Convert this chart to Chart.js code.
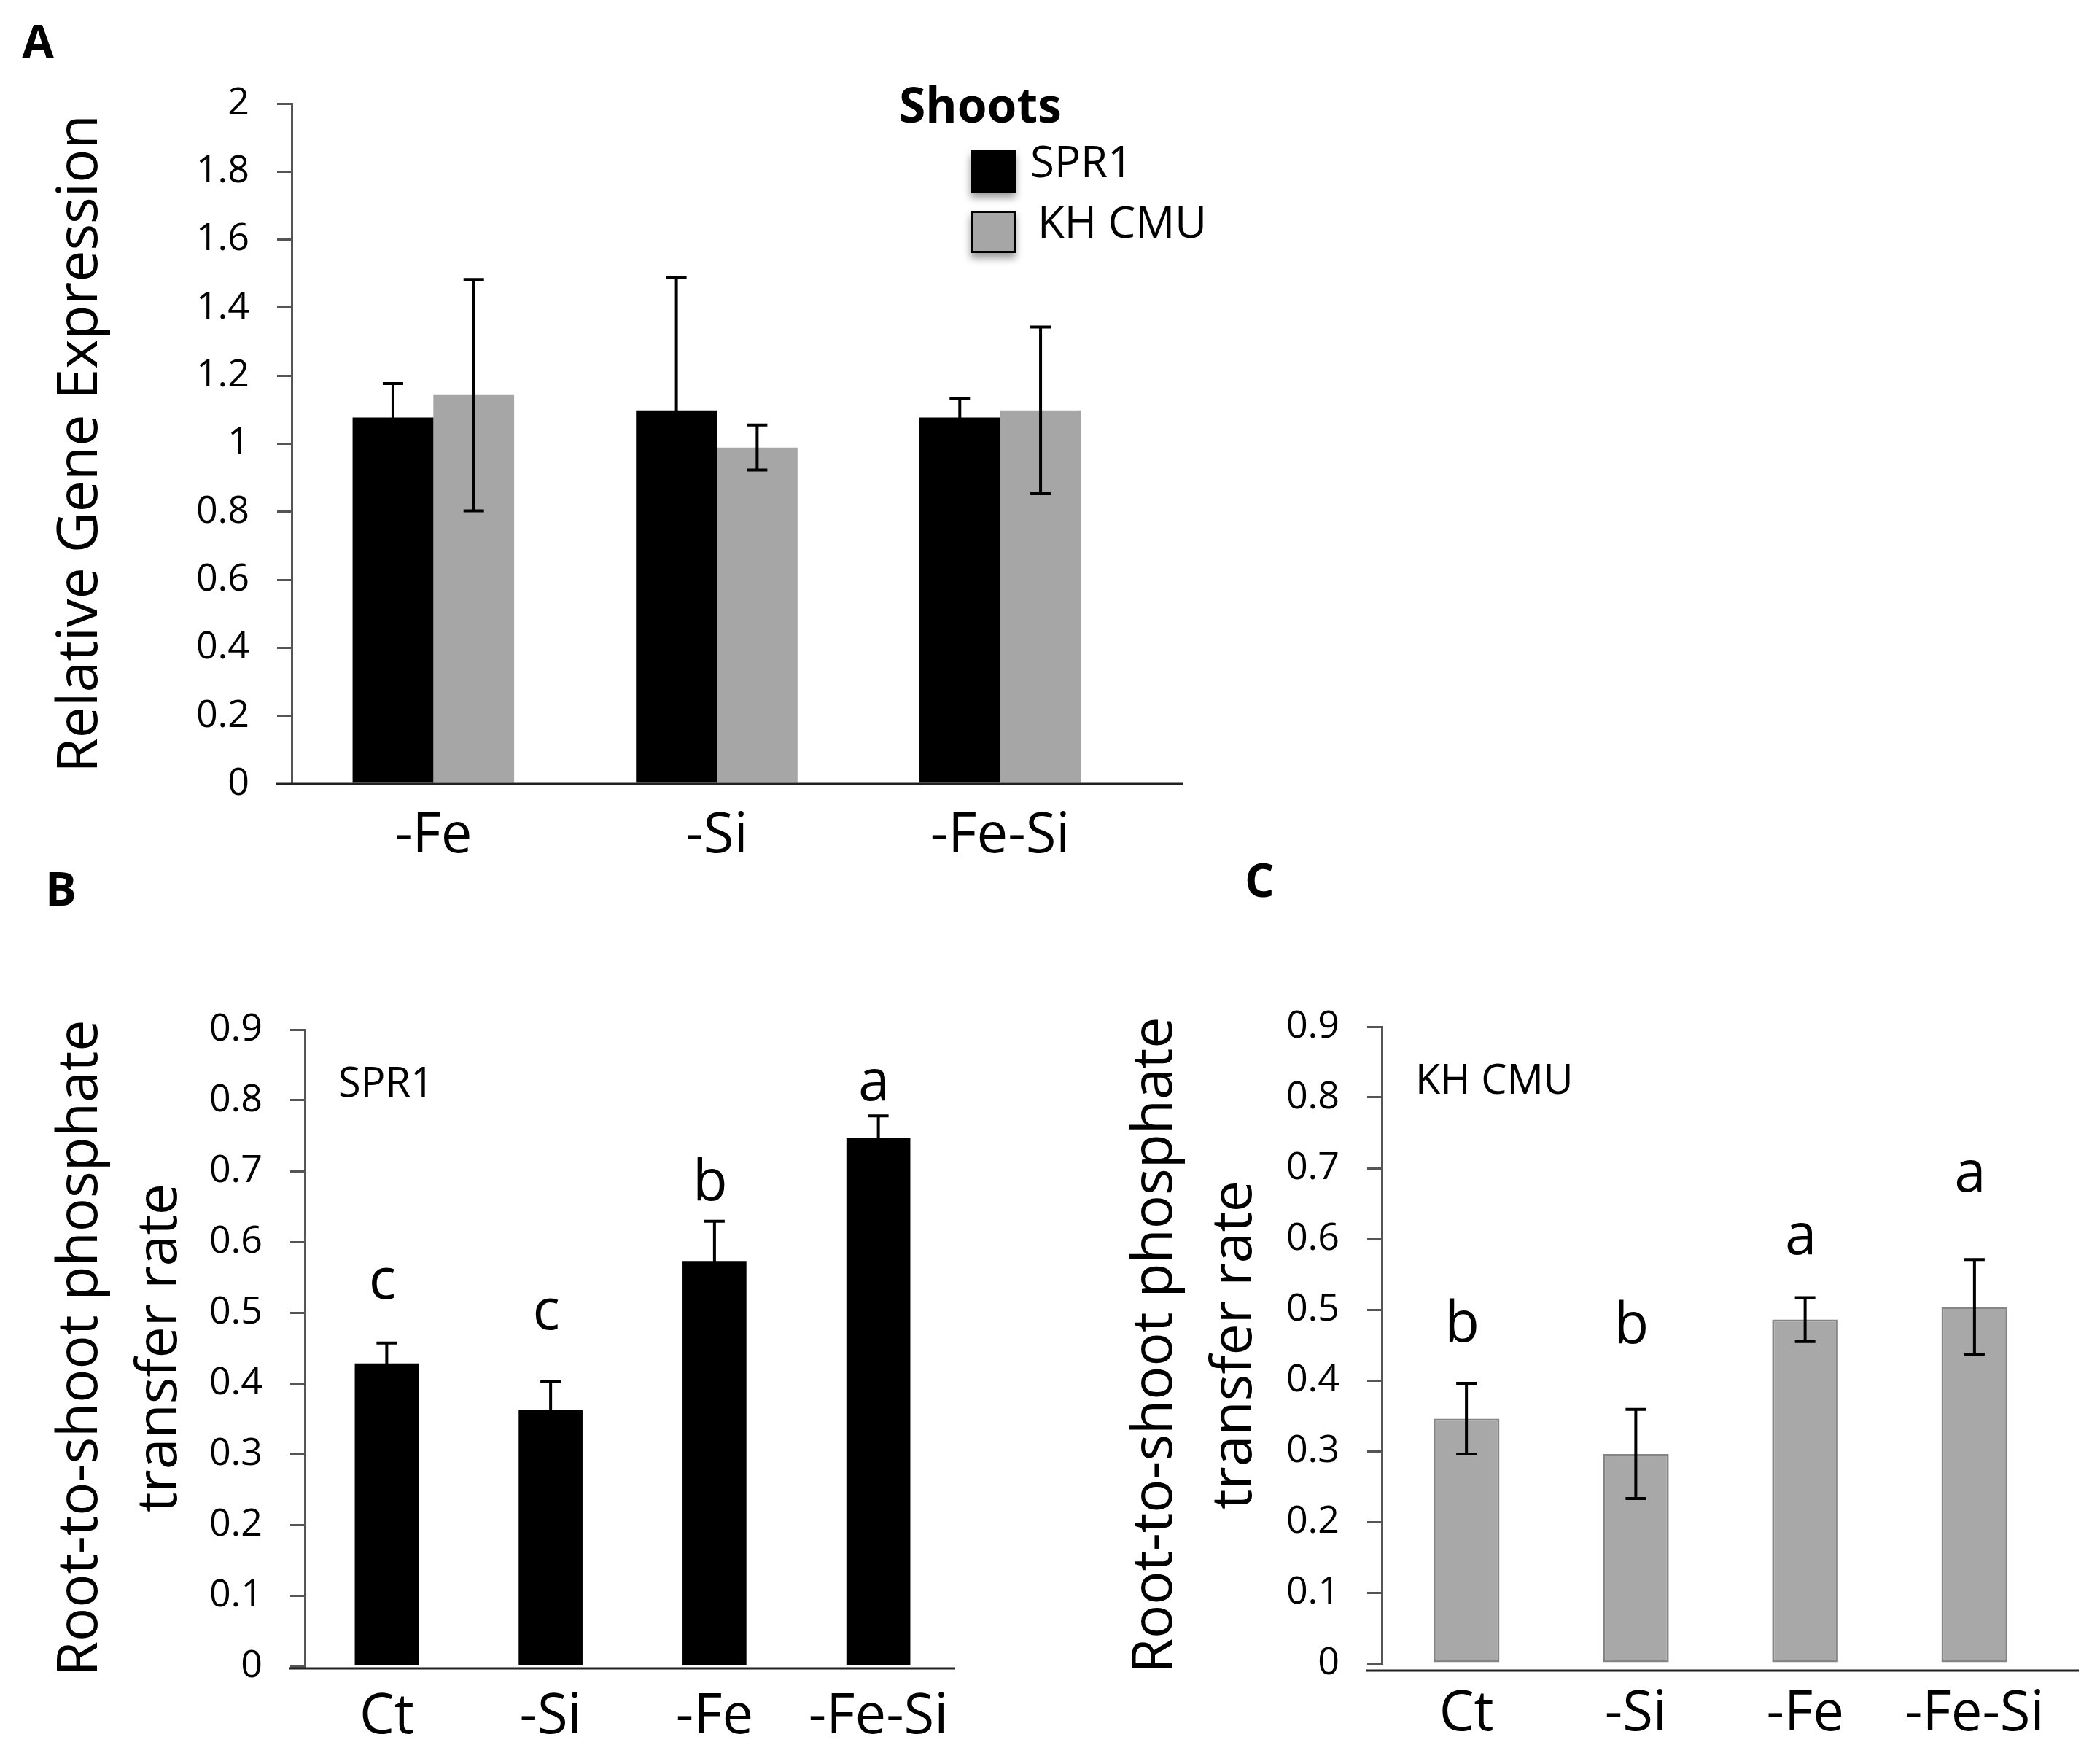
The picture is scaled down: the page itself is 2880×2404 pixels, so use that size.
<!DOCTYPE html>
<html>
<head>
<meta charset="utf-8">
<script src="https://cdn.jsdelivr.net/npm/chart.js@4.4.1/dist/chart.umd.min.js"></script>
<style>
  html, body { margin: 0; padding: 0; background: #fff; }
  body { width: 2880px; height: 2404px; position: relative; overflow: hidden; }
  canvas { position: absolute; }
</style>
</head>
<body>
<canvas id="chart_a" width="1700" height="1200" style="left:0;top:0;width:1700px;height:1200px"></canvas>
<canvas id="chart_b" width="1380" height="1254" style="left:0;top:1150px;width:1380px;height:1254px"></canvas>
<canvas id="chart_c" width="1380" height="1254" style="left:1500px;top:1150px;width:1380px;height:1254px"></canvas>
<script>
// --- panel A: shoots, relative gene expression
const catsA = ['-Fe', '-Si', '-Fe-Si'];
const sprA = [1.077, 1.098, 1.077];
const sprErrA = [0.10, 0.39, 0.056];
const khA = [1.143, 0.989, 1.098];
const khErrA = [0.34, 0.066, 0.245];
const ticksA = [0, 0.2, 0.4, 0.6, 0.8, 1, 1.2, 1.4, 1.6, 1.8, 2];

// --- panels B / C: root-to-shoot phosphate transfer rate
const catsBC = ['Ct', '-Si', '-Fe', '-Fe-Si'];
const sprB = [0.428, 0.363, 0.573, 0.747];
const sprErrB = [0.029, 0.039, 0.056, 0.031];
const lettersB = ['c', 'c', 'b', 'a'];
const letterAtB = [0.52, 0.476, 0.659, 0.80];

const khC = [0.346, 0.296, 0.486, 0.504];
const khErrC = [0.05, 0.063, 0.031, 0.067];
const lettersC = ['b', 'b', 'a', 'a'];
const letterAtC = [0.455, 0.453, 0.578, 0.667];
const ticksBC = [0, 0.1, 0.2, 0.3, 0.4, 0.5, 0.6, 0.7, 0.8, 0.9];

const FONT = "'Open Sans', sans-serif";
const AXIS = '#555555';
Chart.defaults.font.family = FONT;
Chart.defaults.color = '#000';

// error bars, letters, base line and extra labels
function decor(cfg) {
    return {
        id: 'decor',
        afterDatasetsDraw(chart) {
            const ctx = chart.ctx;
            const y = chart.scales.y;
            ctx.save();
            ctx.strokeStyle = '#000';
            ctx.lineWidth = 4;
            chart.data.datasets.forEach((ds, di) => {
                const errs = cfg.errors[di];
                if (!errs) return;
                chart.getDatasetMeta(di).data.forEach((bar, i) => {
                    const top = y.getPixelForValue(ds.data[i] + errs[i]);
                    const bot = y.getPixelForValue(ds.data[i] - errs[i]);
                    ctx.beginPath();
                    ctx.moveTo(bar.x, top); ctx.lineTo(bar.x, bot);
                    ctx.moveTo(bar.x - 14, top); ctx.lineTo(bar.x + 14, top);
                    ctx.moveTo(bar.x - 14, bot); ctx.lineTo(bar.x + 14, bot);
                    ctx.stroke();
                });
            });
            if (cfg.letters) {
                ctx.fillStyle = '#000';
                ctx.font = '78px ' + FONT;
                ctx.textAlign = 'center';
                ctx.textBaseline = 'alphabetic';
                const meta = chart.getDatasetMeta(0);
                cfg.letters.forEach((l, i) => {
                    ctx.fillText(l, meta.data[i].x - 6, y.getPixelForValue(cfg.letterAt[i]));
                });
            }
            ctx.restore();
        },
        afterDraw(chart) {
            const ctx = chart.ctx;
            const a = chart.chartArea;
            ctx.save();
            // base line
            const by = a.bottom + cfg.baseDrop;
            ctx.strokeStyle = '#222';
            ctx.lineWidth = 3;
            ctx.beginPath();
            ctx.moveTo(a.left - 22, by);
            ctx.lineTo(a.right + cfg.baseExtra, by);
            ctx.stroke();
            // panel letter
            ctx.fillStyle = '#000';
            ctx.font = 'bold 64px ' + FONT;
            ctx.textBaseline = 'alphabetic';
            ctx.textAlign = 'left';
            ctx.fillText(cfg.panel[0], cfg.panel[1], cfg.panel[2]);
            // label inside the plot
            if (cfg.tag) {
                ctx.font = '56px ' + FONT;
                ctx.textBaseline = 'middle';
                ctx.fillText(cfg.tag, a.left + 46, a.top + 76);
            }
            // legend
            if (cfg.legend) {
                ctx.font = 'bold 66px ' + FONT;
                ctx.textBaseline = 'middle';
                ctx.fillText('Shoots', 1233, 149);
                chart.data.datasets.forEach((ds, i) => {
                    const top = 206 + i * 83;
                    ctx.save();
                    ctx.shadowColor = 'rgba(0,0,0,0.4)';
                    ctx.shadowBlur = 10;
                    ctx.shadowOffsetY = 7;
                    ctx.fillStyle = ds.backgroundColor;
                    ctx.fillRect(1331, top, 62, 58);
                    ctx.restore();
                    if (i > 0) {
                        ctx.strokeStyle = '#000';
                        ctx.lineWidth = 3;
                        ctx.strokeRect(1332.5, top + 1.5, 59, 55);
                    }
                    ctx.fillStyle = '#000';
                    ctx.font = '60px ' + FONT;
                    ctx.fillText(ds.label, 1413 + i * 10, top + 20);
                });
            }
            ctx.restore();
        }
    };
}

function makeChart(id, labels, datasets, o) {
    const ctx = document.getElementById(id).getContext('2d');
    return new Chart(ctx, {
        type: 'bar',
        data: { labels: labels, datasets: datasets },
        options: {
            responsive: false,
            animation: false,
            devicePixelRatio: 1,
            layout: { padding: { top: o.top, right: o.right, left: 0, bottom: 0 } },
            plugins: { legend: { display: false }, tooltip: { enabled: false } },
            datasets: { bar: { categoryPercentage: o.catPct, barPercentage: 1 } },
            scales: {
                x: {
                    grid: { display: false, drawTicks: false },
                    border: { display: false },
                    ticks: { font: { size: 76 }, color: '#000', padding: o.xPad },
                    afterFit: s => { s.height = o.xHeight; }
                },
                y: {
                    min: 0,
                    max: o.ticks[o.ticks.length - 1],
                    afterBuildTicks: s => { s.ticks = o.ticks.map(v => ({ value: v })); },
                    grid: { display: true, drawOnChartArea: false, drawTicks: true, tickLength: 20, color: AXIS, lineWidth: 3 },
                    border: { display: true, color: AXIS, width: 3 },
                    ticks: { font: { size: 52 }, color: '#000', padding: 38, callback: v => String(v) },
                    title: {
                        display: true,
                        text: o.title,
                        font: { size: 77, lineHeight: o.titleLH },
                        color: '#000',
                        padding: { top: o.titlePad, bottom: 0 }
                    },
                    afterFit: s => { s.width = o.yWidth; }
                }
            }
        },
        plugins: [decor(o.decor)]
    });
}

makeChart('chart_a', catsA, [
    { label: 'SPR1', data: sprA, backgroundColor: '#000000', borderWidth: 0 },
    { label: 'KH CMU', data: khA, backgroundColor: '#a6a6a6', borderWidth: 0 }
], {
    top: 142, right: 134, yWidth: 400, xHeight: 125, xPad: 27, catPct: 0.57,
    ticks: ticksA, title: 'Relative Gene Expression', titleLH: 1.2, titlePad: 65,
    decor: { errors: [sprErrA, khErrA], baseDrop: 0, baseExtra: 57, panel: ['A', 30, 80], legend: true }
});

makeChart('chart_b', catsBC, [
    { label: 'SPR1', data: sprB, backgroundColor: '#000000', borderWidth: 0 }
], {
    top: 262, right: 63, yWidth: 418, xHeight: 119, xPad: 25, catPct: 0.39,
    ticks: ticksBC, title: ['Root-to-shoot phosphate', 'transfer rate'], titleLH: 1.415, titlePad: 57,
    decor: { errors: [sprErrB], letters: lettersB, letterAt: letterAtB, baseDrop: 3, baseExtra: -7, panel: ['B', 62, 92], tag: 'SPR1' }
});

makeChart('chart_c', catsBC, [
    { label: 'KH CMU', data: khC, backgroundColor: '#a8a8a8', borderColor: '#858585', borderWidth: 3, borderSkipped: false }
], {
    top: 258, right: 56, yWidth: 395, xHeight: 123, xPad: 25, catPct: 0.39,
    ticks: ticksBC, title: ['Root-to-shoot phosphate', 'transfer rate'], titleLH: 1.415, titlePad: 31,
    decor: { errors: [khErrC], letters: lettersC, letterAt: letterAtC, baseDrop: 10, baseExtra: 27, panel: ['C', 207, 80], tag: 'KH CMU' }
});
</script>
</body>
</html>
